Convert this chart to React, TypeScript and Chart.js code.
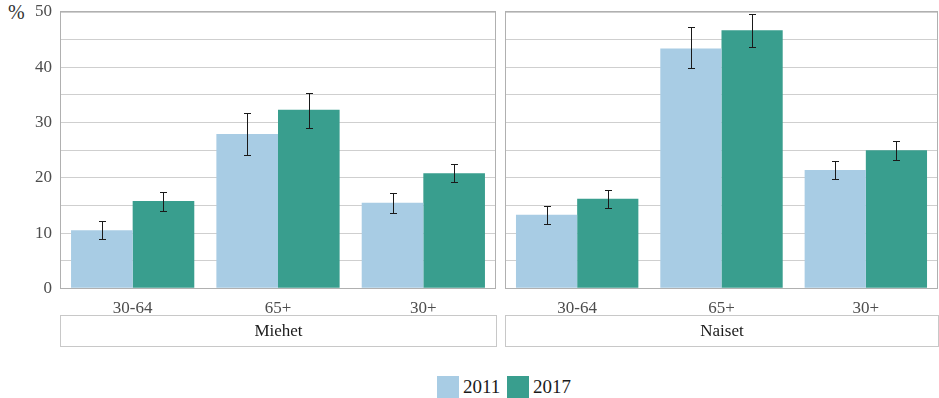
import React, { useEffect, useRef } from 'react';
import { Chart, registerables } from 'chart.js';

Chart.register(...registerables);

// Age groups on the x axis of each panel
const categories = ['30-64', '65+', '30+'];
const seriesYears = ['2011', '2017'];
const panelNames = ['Miehet', 'Naiset'];

// Miehet (men), % with 95% confidence limits
const miehet2011 = [10.5, 27.9, 15.5];
const miehet2011Lo = [8.9, 24.2, 13.7];
const miehet2011Hi = [12.1, 31.8, 17.3];
const miehet2017 = [15.8, 32.3, 20.8];
const miehet2017Lo = [14.0, 29.0, 19.3];
const miehet2017Hi = [17.4, 35.4, 22.5];

// Naiset (women)
const naiset2011 = [13.3, 43.4, 21.4];
const naiset2011Lo = [11.6, 39.8, 19.8];
const naiset2011Hi = [14.9, 47.2, 23.0];
const naiset2017 = [16.2, 46.7, 25.0];
const naiset2017Lo = [14.6, 43.6, 23.2];
const naiset2017Hi = [17.8, 49.7, 26.7];

const yMin = 0;
const yMax = 50;
const yStep = 5;

const COLOR_2011 = '#a8cce4';
const COLOR_2017 = '#399e8e';
const FONT = "'Liberation Serif', serif";

const errorBarPlugin = {
  id: 'errorBars',
  afterDatasetsDraw(chart: any, _args: any, opts: any) {
    const { ctx } = chart;
    const y = chart.scales.y;
    const ranges = (opts && opts.ranges) || [];
    ctx.save();
    ctx.strokeStyle = '#1a1a1a';
    ctx.lineWidth = 1;
    chart.data.datasets.forEach((_ds: any, i: number) => {
      const r = ranges[i];
      if (!r) return;
      const meta = chart.getDatasetMeta(i);
      meta.data.forEach((bar: any, j: number) => {
        const x = Math.round(bar.x) + 0.5;
        const yHi = Math.round(y.getPixelForValue(r.hi[j])) + 0.5;
        const yLo = Math.round(y.getPixelForValue(r.lo[j])) + 0.5;
        ctx.beginPath();
        ctx.moveTo(x, yHi);
        ctx.lineTo(x, yLo);
        ctx.moveTo(x - 3.5, yHi);
        ctx.lineTo(x + 3.5, yHi);
        ctx.moveTo(x - 3.5, yLo);
        ctx.lineTo(x + 3.5, yLo);
        ctx.stroke();
      });
    });
    ctx.restore();
  },
};

const framePlugin = {
  id: 'panelFrame',
  afterDraw(chart: any) {
    const { ctx, chartArea: a } = chart;
    ctx.save();
    ctx.strokeStyle = '#b0b0b0';
    ctx.lineWidth = 1;
    ctx.strokeRect(
      Math.round(a.left) + 0.5,
      Math.round(a.top) - 0.5,
      Math.round(a.right - a.left) - 1,
      Math.round(a.bottom - a.top) + 1
    );
    ctx.restore();
  },
};

type PanelProps = {
  v2011: number[];
  v2017: number[];
  lo2011: number[];
  hi2011: number[];
  lo2017: number[];
  hi2017: number[];
  showYAxis: boolean;
  width: number;
  left: number;
};

function Panel(props: PanelProps) {
  const ref = useRef<HTMLCanvasElement | null>(null);
  useEffect(() => {
    let chart: Chart | null = null;
    let cancelled = false;
    const build = () => {
      if (cancelled || !ref.current) return;
      chart = new Chart(ref.current, {
        type: 'bar',
        data: {
          labels: categories,
          datasets: [
            {
              label: seriesYears[0],
              data: props.v2011,
              backgroundColor: COLOR_2011,
              borderWidth: 0,
              categoryPercentage: 0.848,
              barPercentage: 1,
            },
            {
              label: seriesYears[1],
              data: props.v2017,
              backgroundColor: COLOR_2017,
              borderWidth: 0,
              categoryPercentage: 0.848,
              barPercentage: 1,
            },
          ],
        },
        options: {
          animation: false,
          responsive: false,
          maintainAspectRatio: false,
          font: { family: FONT, size: 17 },
          layout: { padding: { top: 12, right: props.showYAxis ? 4 : 1, left: 0, bottom: 0 } },
          plugins: {
            legend: { display: false },
            tooltip: { enabled: false },
            errorBars: {
              ranges: [
                { lo: props.lo2011, hi: props.hi2011 },
                { lo: props.lo2017, hi: props.hi2017 },
              ],
            },
          } as any,
          scales: {
            x: {
              grid: { display: false },
              border: { display: false },
              ticks: {
                color: '#4d4d4d',
                font: { family: FONT, size: 17 },
                padding: 2,
              },
              afterFit(scale: any) {
                scale.height = 31.7;
              },
            },
            y: {
              min: yMin,
              max: yMax,
              grid: {
                color: '#cfcfcf',
                lineWidth: 1,
                drawTicks: false,
              },
              border: { display: false },
              ticks: {
                display: props.showYAxis,
                stepSize: yStep,
                color: '#4d4d4d',
                font: { family: FONT, size: 17 },
                padding: 8,
                callback: (v: any) => (Number(v) % 10 === 0 ? String(v) : ''),
              },
              afterFit(scale: any) {
                scale.width = props.showYAxis ? 60 : 5;
                scale.paddingTop = 0;
                scale.paddingBottom = 0;
              },
            },
          },
        } as any,
        plugins: [errorBarPlugin, framePlugin],
      });
    };
    const fonts = (document as any).fonts;
    if (fonts && fonts.load) {
      fonts.load("17px 'Liberation Serif'").then(build, build);
    } else {
      build();
    }
    return () => {
      cancelled = true;
      if (chart) chart.destroy();
    };
  }, []);
  return (
    <canvas
      ref={ref}
      width={props.width}
      height={320}
      style={{ position: 'absolute', left: props.left, top: 0, width: props.width, height: 320 }}
    />
  );
}

const stripStyle: React.CSSProperties = {
  position: 'absolute',
  top: 315,
  height: 32,
  boxSizing: 'border-box',
  border: '1px solid #c8c8c8',
  display: 'flex',
  alignItems: 'center',
  justifyContent: 'center',
  fontSize: 17,
  color: '#1a1a1a',
};

const swatch = (color: string, left: number): React.CSSProperties => ({
  position: 'absolute',
  left,
  top: 376,
  width: 22,
  height: 22,
  background: color,
});

const legendText = (left: number): React.CSSProperties => ({
  position: 'absolute',
  left,
  top: 376,
  height: 22,
  lineHeight: '22px',
  fontSize: 19,
  color: '#1a1a1a',
});

export default function App() {
  return (
    <div
      style={{
        position: 'absolute',
        left: 0,
        top: 0,
        width: 939,
        height: 398,
        background: '#ffffff',
        fontFamily: FONT,
        overflow: 'hidden',
      }}
    >
      <div style={{ position: 'absolute', left: 8, top: 1, fontSize: 20, color: '#333' }}>%</div>
      <Panel
        v2011={miehet2011}
        v2017={miehet2017}
        lo2011={miehet2011Lo}
        hi2011={miehet2011Hi}
        lo2017={miehet2017Lo}
        hi2017={miehet2017Hi}
        showYAxis={true}
        width={500}
        left={0}
      />
      <Panel
        v2011={naiset2011}
        v2017={naiset2017}
        lo2011={naiset2011Lo}
        hi2011={naiset2011Hi}
        lo2017={naiset2017Lo}
        hi2017={naiset2017Hi}
        showYAxis={false}
        width={439}
        left={500}
      />
      <div style={{ ...stripStyle, left: 60, width: 437 }}>{panelNames[0]}</div>
      <div style={{ ...stripStyle, left: 505, width: 434 }}>{panelNames[1]}</div>
      <div style={swatch(COLOR_2011, 437)} />
      <div style={legendText(463)}>{seriesYears[0]}</div>
      <div style={swatch(COLOR_2017, 507)} />
      <div style={legendText(533)}>{seriesYears[1]}</div>
    </div>
  );
}
